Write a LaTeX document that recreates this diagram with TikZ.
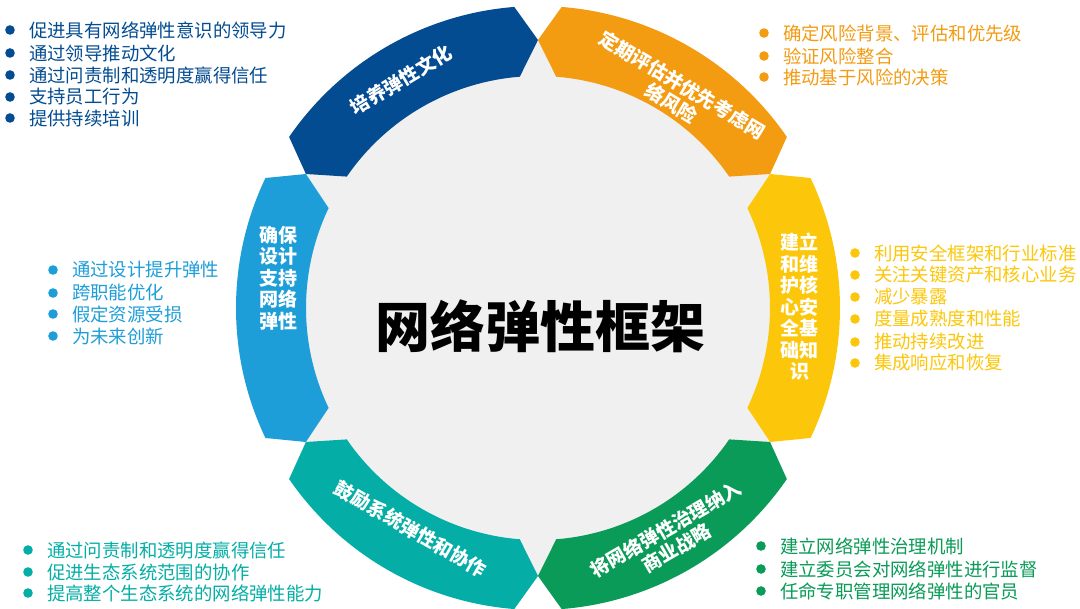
\documentclass[tikz,border=0pt]{standalone}
\usepackage{fontspec}
\newfontfamily\cjk{Noto Sans CJK SC}
\definecolor{cultureblue}{HTML}{034C91}
\definecolor{riskorange}{HTML}{F39C12}
\definecolor{baseyellow}{HTML}{FCC70A}
\definecolor{strategygreen}{HTML}{099B57}
\definecolor{ecoteal}{HTML}{04AEA6}
\definecolor{designblue}{HTML}{1E9ED8}
\definecolor{ringgray}{HTML}{F0F0F0}

\begin{document}
\begin{tikzpicture}[x=1pt,y=1pt,
  seglabel/.style={text=white,inner sep=0,align=center,
    font=\cjk\bfseries\fontsize{19}{21.5}\selectfont},
  listitem/.style={anchor=west,inner sep=0,
    font=\cjk\fontsize{18.4}{22}\selectfont}]
  \path[use as bounding box,fill=white] (-538,-301) rectangle (542,308);
  \fill[ringgray] (0,0) circle (268);

  \fill[cultureblue] (94.5:302) arc[start angle=94.5,end angle=145.5,radius=302]
    -- (150:268) -- (145.5:232) arc[start angle=145.5,end angle=94.5,radius=232]
    -- (90:268) -- cycle;
  \fill[riskorange] (34.5:302) arc[start angle=34.5,end angle=85.5,radius=302]
    -- (90:268) -- (85.5:232) arc[start angle=85.5,end angle=34.5,radius=232]
    -- (30:268) -- cycle;
  \fill[baseyellow] (-25.5:302) arc[start angle=-25.5,end angle=25.5,radius=302]
    -- (30:268) -- (25.5:232) arc[start angle=25.5,end angle=-25.5,radius=232]
    -- (-30:268) -- cycle;
  \fill[strategygreen] (-85.5:302) arc[start angle=-85.5,end angle=-34.5,radius=302]
    -- (-30:268) -- (-34.5:232) arc[start angle=-34.5,end angle=-85.5,radius=232]
    -- (-90:268) -- cycle;
  \fill[ecoteal] (-145.5:302) arc[start angle=-145.5,end angle=-94.5,radius=302]
    -- (-90:268) -- (-94.5:232) arc[start angle=-94.5,end angle=-145.5,radius=232]
    -- (-150:268) -- cycle;
  \fill[designblue] (154.5:302) arc[start angle=154.5,end angle=205.5,radius=302]
    -- (210:268) -- (205.5:232) arc[start angle=205.5,end angle=154.5,radius=232]
    -- (150:268) -- cycle;

  \node[font=\cjk\bfseries\fontsize{55}{60}\selectfont] (title) at (3,-18) {网络弹性框架};

  \node[seglabel,rotate=31] (culture) at (121:266) {培养弹性文化};
  \node[seglabel,rotate=-31] (risk) at (57:255) {定期评估并优先考虑网\\络风险};
  \node[seglabel] (base) at (262,1) {建立\\和维\\护核\\心安\\全基\\础知\\识};
  \node[seglabel,rotate=30] (strategy) at (-60:266) {将网络弹性治理纳入\\商业战略};
  \node[seglabel,rotate=-30] (eco) at (240:255) {鼓励系统弹性和协作};
  \node[seglabel] (design) at (-259,30) {确保\\设计\\支持\\网络\\弹性};

  \node[listitem,text=cultureblue] (c1) at (-509,278) {促进具有网络弹性意识的领导力};
  \node[listitem,text=cultureblue] (c2) at (-509,255) {通过领导推动文化};
  \node[listitem,text=cultureblue] (c3) at (-509,233) {通过问责制和透明度赢得信任};
  \node[listitem,text=cultureblue] (c4) at (-509,211) {支持员工行为};
  \node[listitem,text=cultureblue] (c5) at (-509,190) {提供持续培训};
  \foreach \n in {c1,c2,c3,c4,c5}
    \fill[cultureblue] (\n.west) ++(-19,0) circle (4.8);

  \node[listitem,text=riskorange] (r1) at (245,275) {确定风险背景、评估和优先级};
  \node[listitem,text=riskorange] (r2) at (245,252) {验证风险整合};
  \node[listitem,text=riskorange] (r3) at (245,231) {推动基于风险的决策};
  \foreach \n in {r1,r2,r3}
    \fill[riskorange] (\n.west) ++(-19,0) circle (4.8);

  \node[listitem,text=baseyellow] (b1) at (336,55) {利用安全框架和行业标准};
  \node[listitem,text=baseyellow] (b2) at (336,33) {关注关键资产和核心业务};
  \node[listitem,text=baseyellow] (b3) at (336,11) {减少暴露};
  \node[listitem,text=baseyellow] (b4) at (336,-11) {度量成熟度和性能};
  \node[listitem,text=baseyellow] (b5) at (336,-34) {推动持续改进};
  \node[listitem,text=baseyellow] (b6) at (336,-55) {集成响应和恢复};
  \foreach \n in {b1,b2,b3,b4,b5,b6}
    \fill[baseyellow] (\n.west) ++(-19,0) circle (4.8);

  \node[listitem,text=designblue] (d1) at (-466,38) {通过设计提升弹性};
  \node[listitem,text=designblue] (d2) at (-466,15) {跨职能优化};
  \node[listitem,text=designblue] (d3) at (-466,-6) {假定资源受损};
  \node[listitem,text=designblue] (d4) at (-466,-28) {为未来创新};
  \foreach \n in {d1,d2,d3,d4}
    \fill[designblue] (\n.west) ++(-19,0) circle (4.8);

  \node[listitem,text=ecoteal] (e1) at (-491,-242) {通过问责制和透明度赢得信任};
  \node[listitem,text=ecoteal] (e2) at (-491,-264) {促进生态系统范围的协作};
  \node[listitem,text=ecoteal] (e3) at (-491,-285) {提高整个生态系统的网络弹性能力};
  \foreach \n in {e1,e2,e3}
    \fill[ecoteal] (\n.west) ++(-19,0) circle (4.8);

  \node[listitem,text=strategygreen] (s1) at (242,-238) {建立网络弹性治理机制};
  \node[listitem,text=strategygreen] (s2) at (242,-261) {建立委员会对网络弹性进行监督};
  \node[listitem,text=strategygreen] (s3) at (242,-283) {任命专职管理网络弹性的官员};
  \foreach \n in {s1,s2,s3}
    \fill[strategygreen] (\n.west) ++(-19,0) circle (4.8);
\end{tikzpicture}
\end{document}
